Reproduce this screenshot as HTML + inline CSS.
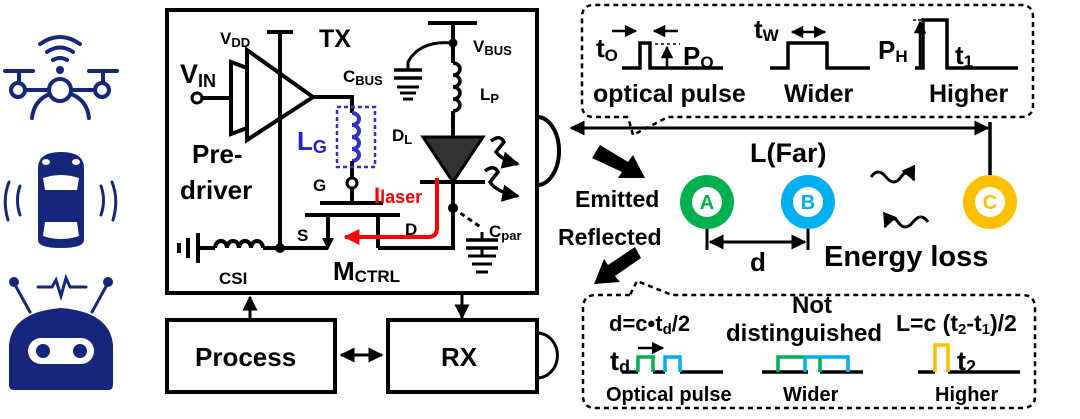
<!DOCTYPE html>
<html><head><meta charset="utf-8"><style>
html,body{margin:0;padding:0;background:#fff;}
svg{display:block;font-family:"Liberation Sans",Arial,sans-serif;font-weight:bold;}
</style></head><body>
<svg width="1080" height="419" viewBox="0 0 1080 419" xmlns="http://www.w3.org/2000/svg">
<defs>
<marker id="ah" viewBox="0 0 10 10" refX="9" refY="5" markerWidth="5" markerHeight="5" orient="auto-start-reverse"><path d="M0,0L10,5L0,10z" fill="#000"/></marker>
<marker id="ahr" viewBox="0 0 10 10" refX="9" refY="5" markerWidth="4" markerHeight="4" orient="auto"><path d="M0,0L10,5L0,10z" fill="#f00"/></marker>
</defs>
<g fill="#16267a" stroke="#16267a" stroke-linecap="round">
<path d="M40,44 Q60,30 80,44" fill="none" stroke-width="4"/>
<path d="M47,52 Q60,43 73,52" fill="none" stroke-width="4"/>
<path d="M53,60 Q60,56 67,60" fill="none" stroke-width="4"/>
<circle cx="60" cy="70" r="4" stroke="none"/>
<circle cx="60" cy="90" r="11" fill="none" stroke-width="4"/>
<line x1="5" y1="71" x2="33" y2="71" stroke-width="4"/><line x1="89" y1="71" x2="117" y2="71" stroke-width="4"/>
<line x1="19" y1="71" x2="19" y2="82" stroke-width="4"/><line x1="103" y1="71" x2="103" y2="82" stroke-width="4"/>
<circle cx="18" cy="90" r="7" fill="none" stroke-width="4"/><circle cx="102" cy="90" r="7" fill="none" stroke-width="4"/>
<line x1="25" y1="90" x2="49" y2="90" stroke-width="4"/><line x1="71" y1="90" x2="95" y2="90" stroke-width="4"/>
<path d="M32,118 Q34,100 50,94" fill="none" stroke-width="4"/><path d="M89,118 Q87,100 71,94" fill="none" stroke-width="4"/>
<path d="M38,168 Q38,152 61,152 Q84,152 84,168 L84,240 Q84,248 61,248 Q38,248 38,240Z" stroke="none"/>
<ellipse cx="46" cy="162" rx="4" ry="3" fill="#fff" stroke="none"/><ellipse cx="76" cy="162" rx="4" ry="3" fill="#fff" stroke="none"/>
<path d="M43,178 Q61,172 79,178 L77,190 L45,190Z" fill="#fff" stroke="none"/>
<path d="M45,222 L77,222 L79,236 Q61,242 43,236Z" fill="#fff" stroke="none"/>
<path d="M9,182 Q2,200 8,220" fill="none" stroke-width="3"/><path d="M20,186 Q15,200 20,215" fill="none" stroke-width="3"/>
<path d="M112,182 Q119,200 113,220" fill="none" stroke-width="3"/><path d="M101,186 Q106,200 101,215" fill="none" stroke-width="3"/>
<line x1="14" y1="283" x2="30" y2="312" stroke-width="3"/><circle cx="14" cy="282" r="5" stroke="none"/>
<line x1="108" y1="283" x2="92" y2="312" stroke-width="3"/><circle cx="108" cy="282" r="5" stroke="none"/>
<path d="M38,287 L52,287 L56,280 L61,296 L66,278 L70,287 L86,287" fill="none" stroke-width="3"/>
<path d="M9,385 L9,345 Q12,312 61,308 Q110,312 113,345 L113,385 Q113,390 108,390 L14,390 Q9,390 9,385Z" stroke="none"/>
<rect x="28" y="338" width="66" height="26" rx="13" fill="#fff" stroke="none"/>
<circle cx="43" cy="351" r="7" stroke="none"/><circle cx="80" cy="351" r="7" stroke="none"/>
</g>
<g stroke="#000" stroke-width="4" fill="none">
<rect x="167" y="10" width="370" height="283"/>
<path d="M537,117 A22,34 0 0 1 537,185"/>
<rect x="167" y="320" width="168" height="72"/>
<rect x="388" y="320" width="149" height="72"/>
<path d="M537,333 A20,22 0 0 1 537,378" stroke-width="3"/>
<line x1="341" y1="355" x2="382" y2="355" stroke-width="3" marker-start="url(#ah)" marker-end="url(#ah)"/>
<line x1="250" y1="318" x2="250" y2="297" stroke-width="3" marker-end="url(#ah)"/>
<line x1="462" y1="295" x2="462" y2="318" stroke-width="3" marker-end="url(#ah)"/>
<line x1="267" y1="32" x2="293" y2="32"/>
<line x1="280" y1="32" x2="280" y2="247"/>
<polygon points="247,50 247,140 313,97"/>
<polygon points="231,62 247,68 247,128 231,134"/>
<circle cx="197" cy="98" r="5" stroke-width="3"/>
<line x1="202" y1="98" x2="231" y2="98"/>
<polyline points="313,97 352,97 352,113"/>
<path d="M352,113 a7,6 0 1 1 0,12 a7,6 0 1 1 0,12 a7,6 0 1 1 0,12 a7,6 0 1 1 0,12" stroke="#3030d0"/>
<line x1="352" y1="161" x2="352" y2="178"/>
<circle cx="352" cy="183" r="5" stroke-width="3"/>
<line x1="352" y1="188" x2="352" y2="203"/>
<line x1="320" y1="203" x2="383" y2="203"/>
<line x1="305" y1="215" x2="400" y2="215"/>
<line x1="328" y1="215" x2="328" y2="240"/>
<line x1="378" y1="215" x2="378" y2="248"/>
<polyline points="378,248 453,248 453,182"/>
<polyline points="328,248 263,248"/>
<path d="M263,248 a6,7 0 0 0 -12,0 a6,7 0 0 0 -12,0 a6,7 0 0 0 -12,0 a6,7 0 0 0 -12,0"/>
<line x1="215" y1="248" x2="198" y2="248"/>
<line x1="198" y1="233" x2="198" y2="263"/>
<line x1="188" y1="238" x2="188" y2="258"/>
<line x1="179" y1="243" x2="179" y2="253"/>
<line x1="428" y1="23" x2="477" y2="23"/>
<line x1="453" y1="23" x2="453" y2="63"/>
<path d="M453,63 a7,6 0 1 1 0,12 a7,6 0 1 1 0,12 a7,6 0 1 1 0,12 a7,6 0 1 1 0,12" stroke-width="3.5"/>
<line x1="453" y1="111" x2="453" y2="137"/>
<line x1="420" y1="182" x2="485" y2="182"/>
<path d="M453,43 Q420,40 408,62 L408,70" stroke-width="3"/>
<line x1="394" y1="70" x2="422" y2="70" stroke-width="3.5"/><line x1="394" y1="78" x2="422" y2="78" stroke-width="3.5"/>
<line x1="397" y1="87" x2="419" y2="87" stroke-width="3"/><line x1="400" y1="93" x2="416" y2="93" stroke-width="3"/><line x1="403" y1="99" x2="413" y2="99" stroke-width="3"/>
<path d="M453,208 L482,228" stroke-width="3" stroke-dasharray="5,4"/>
<line x1="482" y1="232" x2="482" y2="240" stroke-width="3"/>
<line x1="466" y1="240" x2="498" y2="240" stroke-width="3.5"/><line x1="466" y1="248" x2="498" y2="248" stroke-width="3.5"/>
<line x1="482" y1="248" x2="482" y2="256" stroke-width="3"/>
<line x1="468" y1="256" x2="496" y2="256" stroke-width="3"/><line x1="472" y1="264" x2="492" y2="264" stroke-width="3"/><line x1="476" y1="272" x2="488" y2="272" stroke-width="3"/>
<path d="M491,141 Q500,134 504,142 L496,152 Q502,160 518,164" stroke-width="3.5" marker-end="url(#ah)"/>
<path d="M485,171 Q494,164 498,172 L490,182 Q496,192 518,196" stroke-width="3.5" marker-end="url(#ah)"/>
</g>
<rect x="337" y="107" width="38" height="60" fill="none" stroke="#3030d0" stroke-width="2.5" stroke-dasharray="4,3"/>
<polygon points="423,137 483,137 453,182" fill="#333" stroke="#000" stroke-width="3"/>
<polygon points="322,238 334,238 328,250" fill="#000"/>
<circle cx="280" cy="248" r="5"/><circle cx="453" cy="43" r="4.5"/><circle cx="453" cy="208" r="5"/>
<path d="M437,178 L437,228 Q437,237 428,237 L345,237" fill="none" stroke="#f00" stroke-width="4" marker-end="url(#ahr)"/>
<g font-size="17">
<text x="220" y="44">V<tspan font-size="13" dy="3">DD</tspan></text>
<text x="473" y="52">V<tspan font-size="13" dy="3">BUS</tspan></text>
<text x="343" y="82">C<tspan font-size="13" dy="3">BUS</tspan></text>
<text x="480" y="100">L<tspan font-size="13" dy="3">P</tspan></text>
<text x="392" y="141">D<tspan font-size="13" dy="3">L</tspan></text>
<text x="313" y="191">G</text>
<text x="297" y="241">S</text>
<text x="405" y="235">D</text>
<text x="489" y="237">C<tspan font-size="13" dy="3">par</tspan></text>
<text x="219" y="284">CSI</text>
</g>
<text x="319" y="47" font-size="25">TX</text>
<text x="180" y="83" font-size="27">V<tspan font-size="18" dy="4">IN</tspan></text>
<text x="297" y="150" font-size="26" fill="#2020d8">L<tspan font-size="18" dy="3">G</tspan></text>
<text x="374" y="203" font-size="22" fill="#f00">I<tspan font-size="18">laser</tspan></text>
<text x="192" y="163" font-size="26">Pre-</text>
<text x="180" y="199" font-size="26">driver</text>
<text x="333" y="280" font-size="26">M<tspan font-size="17" dy="2">CTRL</tspan></text>
<text x="195" y="366" font-size="26">Process</text>
<text x="441" y="366" font-size="26">RX</text>
<g stroke="#000" fill="none" stroke-width="2.5">
<path d="M628,117 L594,117 Q582,117 582,105 L582,17 Q582,5 594,5 L1021,5 Q1033,5 1033,17 L1033,105 Q1033,117 1021,117 L668,117 L633,135 L628,117" stroke-dasharray="5,4"/>
<line x1="571" y1="128" x2="988" y2="128" marker-start="url(#ah)" marker-end="url(#ah)" stroke-width="3"/>
<line x1="990" y1="122" x2="990" y2="176" stroke-width="3.5"/>
<g stroke-width="3.5"><polyline points="622,68 640,68 640,43 650,43 650,68 723,68"/>
<polyline points="770,68 788,68 788,43 827,43 827,68 870,68"/>
<polyline points="915,68 923,68 923,20 947,20 947,68 1018,68"/></g>
<line x1="612" y1="31" x2="636" y2="31" stroke-width="2.5" marker-end="url(#ah)"/>
<line x1="678" y1="31" x2="654" y2="31" stroke-width="2.5" marker-end="url(#ah)"/>
<line x1="667" y1="68" x2="667" y2="47" stroke-width="2.5" marker-end="url(#ah)"/>
<line x1="655" y1="44" x2="680" y2="44" stroke-dasharray="3,3" stroke-width="1.5"/>
<line x1="792" y1="32" x2="825" y2="32" stroke-width="2.5" marker-start="url(#ah)" marker-end="url(#ah)"/>
<line x1="920" y1="68" x2="920" y2="22" stroke-width="2.5" marker-end="url(#ah)"/>
<line x1="913" y1="20" x2="923" y2="20" stroke-dasharray="3,2" stroke-width="1.5"/>
<line x1="707" y1="228" x2="707" y2="250" stroke-width="3"/><line x1="808" y1="228" x2="808" y2="250" stroke-width="3"/>
<line x1="710" y1="242" x2="805" y2="242" stroke-width="3" marker-start="url(#ah)" marker-end="url(#ah)"/>
<path d="M871,177 q7,-10 15,0 t15,0 t13,3" stroke-width="3" marker-end="url(#ah)"/>
<path d="M928,222 q-7,-10 -15,0 t-15,0 t-13,5" stroke-width="3" marker-end="url(#ah)"/>
</g>
<polygon points="592,158 600,145 628,162 633,155 645,178 618,178 622,172" fill="#000"/>
<polygon points="641,258 635,247 608,265 604,259 594,284 620,282 615,276" fill="#000"/>
<g font-size="26"><text x="596" y="57">t<tspan font-size="17" dy="4">O</tspan></text>
<text x="683" y="65">P<tspan font-size="17" dy="3">O</tspan></text>
<text x="754" y="38">t<tspan font-size="17" dy="3">W</tspan></text>
<text x="878" y="59">P<tspan font-size="17" dy="3">H</tspan></text>
<text x="955" y="64">t<tspan font-size="17" dy="3">1</tspan></text>
<text x="593" y="102" font-size="25">optical pulse</text>
<text x="784" y="102" font-size="25">Wider</text>
<text x="929" y="102" font-size="25">Higher</text>
<text x="750" y="162" font-size="27">L(Far)</text>
<text x="750" y="271">d</text>
<text x="824" y="266" font-size="29">Energy loss</text>
<text x="575" y="207" font-size="23">Emitted</text>
<text x="558" y="245" font-size="23">Reflected</text>
</g>
<g font-size="20">
<circle cx="707" cy="202" r="27" fill="#00b050"/><circle cx="707" cy="202" r="15" fill="#fff"/><text x="707" y="209" text-anchor="middle" fill="#00b050">A</text>
<circle cx="808" cy="202" r="27" fill="#00b0f0"/><circle cx="808" cy="202" r="15" fill="#fff"/><text x="808" y="209" text-anchor="middle" fill="#00b0f0">B</text>
<circle cx="990" cy="202" r="27" fill="#ffc000"/><circle cx="990" cy="202" r="15" fill="#fff"/><text x="990" y="209" text-anchor="middle" fill="#ffc000">C</text>
</g>
<g fill="none" stroke-width="3.5">
<path d="M630,295 L596,295 Q583,295 583,308 L583,396 Q583,408 596,408 L1022,408 Q1035,408 1035,396 L1035,308 Q1035,295 1022,295 L672,295 L637,281 L630,295" stroke="#000" stroke-width="2.5" stroke-dasharray="5,4"/>
<polyline points="622,372 638,372" stroke="#000"/><polyline points="653,372 665,372" stroke="#000"/><polyline points="680,372 723,372" stroke="#000"/>
<polyline points="638,372 638,357 653,357 653,372" stroke="#00b050"/>
<polyline points="665,372 665,357 680,357 680,372" stroke="#00b0f0"/>
<polyline points="762,372 808,372" stroke="#000"/><polyline points="820,372 863,372" stroke="#000"/>
<polyline points="778,372 778,357 805,357" stroke="#00b050"/>
<polyline points="805,372 805,357 848,357 848,372" stroke="#00b0f0"/>
<polyline points="820,372 820,357" stroke="#00b050"/>
<polyline points="918,372 935,372" stroke="#000"/><polyline points="948,372 1020,372" stroke="#000"/>
<polyline points="935,372 935,345 948,345 948,372" stroke="#ffc000"/>
<line x1="638" y1="348" x2="663" y2="348" stroke="#000" stroke-width="2.5" marker-end="url(#ah)"/>
</g>
<g font-size="22">
<text x="609" y="331">d=c•t<tspan font-size="15" dy="3">d</tspan><tspan dy="-3">/2</tspan></text>
<text x="792" y="313" font-size="24">Not</text>
<text x="726" y="341" font-size="24">distinguished</text>
<text x="896" y="331" font-size="23">L=c (t<tspan font-size="15" dy="3">2</tspan><tspan dy="-3">-t</tspan><tspan font-size="15" dy="3">1</tspan><tspan dy="-3">)/2</tspan></text>
<text x="610" y="370" font-size="27">t<tspan font-size="18" dy="3">d</tspan></text>
<text x="957" y="370" font-size="27">t<tspan font-size="18" dy="3">2</tspan></text>
<text x="606" y="401" font-size="20">Optical pulse</text>
<text x="783" y="401" font-size="20">Wider</text>
<text x="935" y="401" font-size="20">Higher</text>
</g>
</svg>
</body></html>
